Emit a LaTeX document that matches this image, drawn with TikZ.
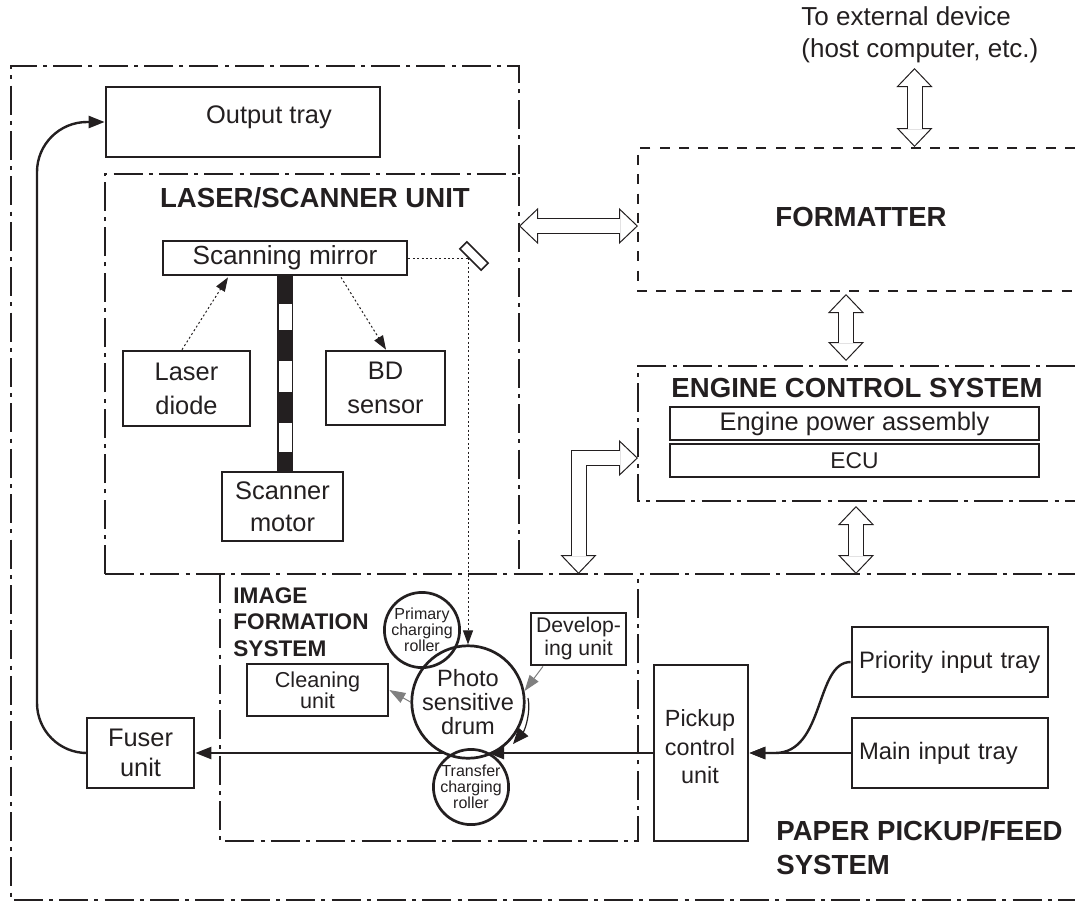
\documentclass[tikz,border=0pt]{standalone}
\usepackage{fontspec}
\setmainfont{Liberation Sans}
\usepackage{xcolor}
\usetikzlibrary{arrows.meta,positioning,calc}
\definecolor{ink}{HTML}{231F20}
\definecolor{gr}{HTML}{808080}
\newcommand{\fs}[2]{\fontsize{#1pt}{#2pt}\selectfont}
\newcommand{\hollowlink}[1]{%
  \draw[hollow] #1;
  \draw[white,line width=7pt,shorten <=8.8pt,shorten >=8.8pt] #1;}
\tikzset{
  unitbox/.style={draw=ink,line width=1.35pt,inner sep=0pt,align=center,text=ink,font=\fs{12.7}{17}},
  traybox/.style={unitbox,minimum width=98pt,minimum height=35pt,text width=94pt,align=left,font=\fs{11.9}{14}},
  bare/.style={inner sep=0pt,align=center,text=ink},
  roller/.style={unitbox,circle,minimum size=35pt,font=\fs{8}{8}},
  title/.style={inner sep=0pt,text=ink,font=\bfseries\fs{13.8}{17}},
  dashdot/.style={draw=ink,line width=1.35pt,dash pattern=on 14.5pt off 3.1pt on 2pt off 3.1pt},
  dashonly/.style={draw=ink,line width=1.35pt,dash pattern=on 5pt off 4.65pt},
  link/.style={draw=ink,line width=1.2pt,-{Triangle[length=8pt,width=6pt]}},
  spin/.style={draw=ink,line width=.6pt,-{Triangle[length=8pt,width=6.5pt]}},
  beam/.style={draw=ink,line width=.5pt,dash pattern=on 1pt off 1.2pt,-{Triangle[length=7pt,width=5pt]}},
  graylink/.style={draw=gr,line width=.5pt,-{Triangle[length=8pt,width=5.5pt]}},
  hollow/.style={draw=ink,line width=.5pt,double=white,double distance=7pt,
    {Triangle[open,fill=white,line width=.5pt,length=9.5pt,width=18pt]}-{Triangle[open,fill=white,line width=.5pt,length=9.5pt,width=18pt]}}
}
\begin{document}
\begin{tikzpicture}[x=.5pt,y=-.5pt]
  \useasboundingbox (0,0) rectangle (1075,901);

  \draw[dashdot] (519,174) -- (519,66) -- (11,66) -- (11,900) -- (1075,900);
  \draw[dashdot] (105,574) -- (105,174) -- (519,174) -- (519,574);
  \draw[dashdot] (105,574) -- (1075,574);
  \draw[dashdot] (220,574) -- (220,841) -- (638,841) -- (638,574);
  \draw[dashonly] (1075,148) -- (638,148) -- (638,291) -- (1075,291);
  \draw[dashdot] (1075,366) -- (638,366) -- (638,501) -- (1075,501);

  \node[unitbox,minimum width=137pt,minimum height=35pt] (tray) at (243,122) {};
  \node[bare,font=\fs{12.7}{17}] (traylabel) at (269,117) {Output tray};
  \node[unitbox,minimum width=122pt,minimum height=17pt,font=\fs{13.1}{17}] (mirror) at (285,258) {Scanning mirror};
  \node[unitbox,minimum width=63.5pt,minimum height=37.5pt] (laser) at (186.5,388.5) {Laser\\diode};
  \node[unitbox,minimum width=59.5pt,minimum height=37pt] (bd) at (385.5,388) {BD\\sensor};
  \node[unitbox,minimum width=60.5pt,minimum height=34.5pt,font=\fs{12.7}{16}] (motor) at (282.5,506.5) {Scanner\\motor};
  \node[unitbox,line width=.8pt,rotate=-45,minimum width=15pt,minimum height=5pt] (flat) at (474,256) {};

  \draw[ink,line width=8pt] (mirror.south) -- (mirror.south |- motor.north);
  \foreach \ya/\yb in {304/330,361/392,423/452}
    \fill[white] (279,\ya) rectangle (292,\yb);

  \node[title] (lasertitle) at (315,198) {LASER/SCANNER UNIT};
  \node[title] (formattitle) at (861,217) {FORMATTER};
  \node[title] (enginetitle) at (857,388) {ENGINE CONTROL SYSTEM};
  \node[title,anchor=north west,align=left] (papertitle) at (776,820) {PAPER PICKUP/FEED\\SYSTEM};
  \node[title,anchor=north west,align=left,font=\bfseries\fs{11.3}{13.3}] (imagetitle) at (233,587) {IMAGE\\FORMATION\\SYSTEM};
  \node[anchor=north west,align=left,inner sep=0pt,text=ink,font=\fs{13}{16.2}] (external) at (801,6) {To external device\\(host computer, etc.)};

  \node[unitbox,minimum width=184.5pt,minimum height=16.5pt] (power) at (854.5,423.5) {Engine power assembly};
  \node[unitbox,minimum width=184.5pt,minimum height=16.5pt,font=\fs{11.4}{14}] (ecu) at (854.5,460.5) {ECU};

  \node[unitbox,circle,minimum size=50pt,font=\fs{11.8}{12}] (drum) at (468,702) {Photo\\sensitive\\drum};
  \node[roller] (primary) at (422,630) {Primary\\charging\\roller};
  \node[roller] (transfer) at (471,787) {Transfer\\charging\\roller};
  \node[unitbox,minimum width=47.5pt,minimum height=26pt,font=\fs{10.6}{11.5}] (developing) at (578.5,639) {Develop-\\ing unit};
  \node[unitbox,minimum width=70.5pt,minimum height=26pt,font=\fs{10.8}{10.5}] (cleaning) at (317.5,690) {Cleaning\\unit};
  \node[unitbox,minimum width=53.5pt,minimum height=35pt,font=\fs{12.7}{15}] (fuser) at (140.5,753) {Fuser\\unit};
  \node[unitbox,minimum width=47pt,minimum height=88pt] (pickup) at (701,753) {};
  \node[bare,font=\fs{11.7}{14.3}] (pickuplabel) at (700,747) {Pickup\\control\\unit};
  \node[traybox] (priority) at (950,662) {\hspace*{1.5pt}Priority input tray};
  \node[traybox] (maintray) at (950,753) {\hspace*{1.5pt}Main input tray};

  \coordinate (bend) at (37,400);
  \coordinate (turn) at (468,258);
  \coordinate (nipright) at (488,753);
  \coordinate (nipleft) at (445,753);
  \coordinate (merge) at (775,753);
  \coordinate (hosttop) at (914.5,68);
  \coordinate (hostbot) at (914.5,147);
  \coordinate (fmtleft) at (519,226);
  \coordinate (fmtright) at (638,226);
  \coordinate (fmtbot) at (846,294);
  \coordinate (engtop) at (846,361);
  \coordinate (engbot) at (856,506);
  \coordinate (feedtop) at (856,574);
  \coordinate (engleft) at (638,458);
  \coordinate (formfoot) at (578.5,574);
  \coordinate (formbend) at (578.5,458);
  \coordinate (spinfrom) at (528,698);
  \coordinate (spinto) at (513,744);

  \draw[link,rounded corners=25pt] (fuser.west) -| (bend) |- (tray.west);
  \draw[link] (nipleft) -- (fuser.east);
  \draw[link] (pickup.west) -- (nipright);
  \draw[link] (maintray.west) -- (pickup.east);
  \draw[link] (priority.west) .. controls (815,662) and (825,753) .. (merge) -- (pickup.east);
  \draw[spin] (spinfrom) .. controls (531,712) and (525,730) .. (spinto);

  \draw[beam] ($(laser.north)+(-4.5,0)$) -- ($(mirror.south)+(-57,1)$);
  \draw[beam] ($(mirror.south)+(56,1)$) -- ($(bd.north)+(.5,0)$);
  \draw[beam,-] (mirror.east) -- (turn);
  \draw[beam] (turn) -- (drum.north);

  \draw[graylink] ($(developing.south)+(-35.5,0)$) -- (drum.11);
  \draw[graylink] (drum.west) -- (cleaning.east);

  \hollowlink{(hosttop) -- (hostbot)}
  \hollowlink{(fmtleft) -- (fmtright)}
  \hollowlink{(fmtbot) -- (engtop)}
  \hollowlink{(engbot) -- (feedtop)}
  \hollowlink{(formfoot) -- (formbend) -- (engleft)}
\end{tikzpicture}
\end{document}
